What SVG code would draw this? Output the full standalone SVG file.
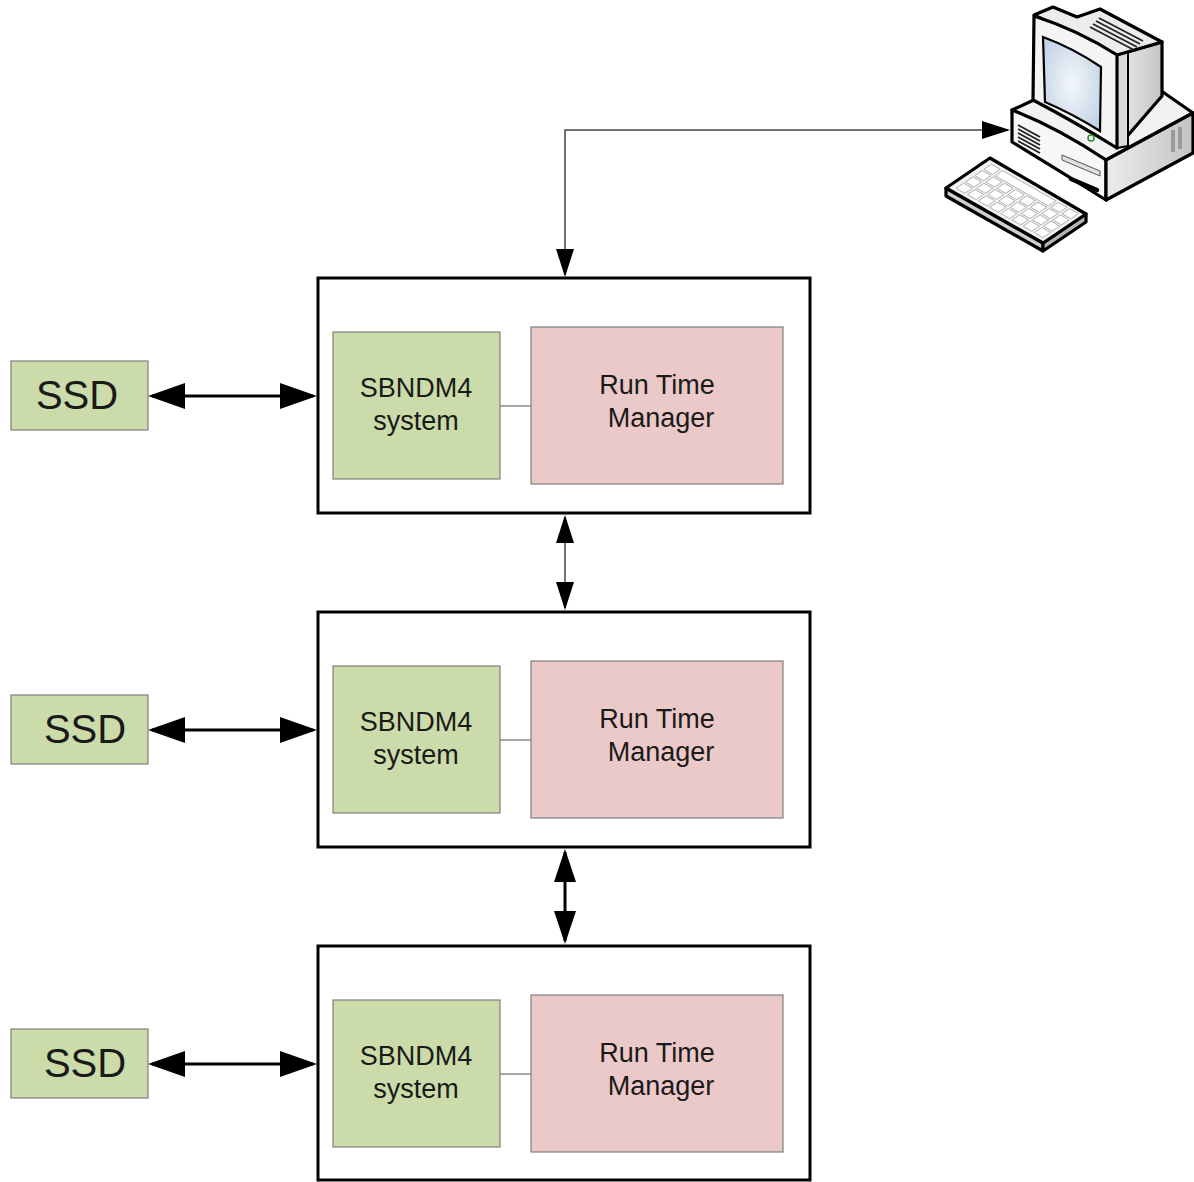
<svg xmlns="http://www.w3.org/2000/svg" width="1194" height="1182" viewBox="0 0 1194 1182">
  <style>
    .frame { fill: #ffffff; stroke: #000000; stroke-width: 3; }
    .sys { fill: #cbdba9; stroke: #7f7f7f; stroke-width: 1.2; }
    .rtm { fill: #ecc9c9; stroke: #7f7f7f; stroke-width: 1.2; }
    .ssd { fill: #cbdba9; stroke: #7f7f7f; stroke-width: 1.2; }
    .label { font-family: "Liberation Sans", Arial, sans-serif; font-size: 27px; fill: #1a1a1a; text-anchor: middle; }
    .big { font-size: 40px; }
    .link { stroke: #6e6e6e; stroke-width: 1.2; fill: none; }
    .thin { stroke: #444444; stroke-width: 1.5; fill: none; }
    .bold { stroke: #000000; stroke-width: 3; fill: none; }
    .pc { stroke: #000000; stroke-linejoin: round; stroke-width: 3.2; }
    .pcin { stroke: #000000; stroke-linejoin: round; stroke-width: 2; }
  </style>
  <defs>
    <marker id="m-sm" markerUnits="userSpaceOnUse" markerWidth="28" markerHeight="18" viewBox="0 0 28 18" refX="26" refY="9" orient="auto-start-reverse">
      <path d="M0,0 L28,9 L0,18 z" fill="#000"/>
    </marker>
    <marker id="m-md" markerUnits="userSpaceOnUse" markerWidth="33" markerHeight="22" viewBox="0 0 33 22" refX="30" refY="11" orient="auto-start-reverse">
      <path d="M0,0 L33,11 L0,22 z" fill="#000"/>
    </marker>
    <marker id="m-lg" markerUnits="userSpaceOnUse" markerWidth="37" markerHeight="26" viewBox="0 0 37 26" refX="33" refY="13" orient="auto-start-reverse">
      <path d="M0,0 L37,13 L0,26 z" fill="#000"/>
    </marker>
    <radialGradient id="screenGlow" cx="0.5" cy="0.5" r="0.6">
      <stop offset="0" stop-color="#f4f7fb"/>
      <stop offset="1" stop-color="#c3d3e6"/>
    </radialGradient>
    <linearGradient id="sideShade" x1="0" y1="0" x2="1" y2="0">
      <stop offset="0" stop-color="#ececec"/>
      <stop offset="1" stop-color="#c4c4c4"/>
    </linearGradient>
  </defs>

  <!-- connectors -->
  <g id="connectors">
    <path class="thin" d="M1008,130 H565 V275" marker-start="url(#m-sm)" marker-end="url(#m-sm)"/>
    <line class="thin" x1="565" y1="517" x2="565" y2="608" marker-start="url(#m-sm)" marker-end="url(#m-sm)"/>
    <line class="bold" x1="565" y1="852" x2="565" y2="941" marker-start="url(#m-md)" marker-end="url(#m-md)"/>
    <line class="bold" x1="152" y1="396" x2="313" y2="396" marker-start="url(#m-lg)" marker-end="url(#m-lg)"/>
    <line class="bold" x1="152" y1="730" x2="313" y2="730" marker-start="url(#m-lg)" marker-end="url(#m-lg)"/>
    <line class="bold" x1="152" y1="1064" x2="313" y2="1064" marker-start="url(#m-lg)" marker-end="url(#m-lg)"/>
  </g>

  <!-- node 1 -->
  <g id="node1">
    <rect class="frame" x="318" y="278" width="492" height="235"/>
    <line class="link" x1="500" y1="406" x2="531" y2="406"/>
    <rect class="sys" x="333" y="332" width="167" height="147"/>
    <rect class="rtm" x="531" y="327" width="252" height="157"/>
    <text class="label" x="416" y="397">SBNDM4</text>
    <text class="label" x="416" y="430">system</text>
    <text class="label" x="657" y="394">Run Time</text>
    <text class="label" x="661" y="427">Manager</text>
  </g>
  <g id="ssd1">
    <rect class="ssd" x="11" y="361" width="137" height="69"/>
    <text class="label big" x="77" y="409">SSD</text>
  </g>

  <!-- node 2 -->
  <g id="node2">
    <rect class="frame" x="318" y="612" width="492" height="235"/>
    <line class="link" x1="500" y1="740" x2="531" y2="740"/>
    <rect class="sys" x="333" y="666" width="167" height="147"/>
    <rect class="rtm" x="531" y="661" width="252" height="157"/>
    <text class="label" x="416" y="731">SBNDM4</text>
    <text class="label" x="416" y="764">system</text>
    <text class="label" x="657" y="728">Run Time</text>
    <text class="label" x="661" y="761">Manager</text>
  </g>
  <g id="ssd2">
    <rect class="ssd" x="11" y="695" width="137" height="69"/>
    <text class="label big" x="85" y="743">SSD</text>
  </g>

  <!-- node 3 -->
  <g id="node3">
    <rect class="frame" x="318" y="946" width="492" height="234"/>
    <line class="link" x1="500" y1="1074" x2="531" y2="1074"/>
    <rect class="sys" x="333" y="1000" width="167" height="147"/>
    <rect class="rtm" x="531" y="995" width="252" height="157"/>
    <text class="label" x="416" y="1065">SBNDM4</text>
    <text class="label" x="416" y="1098">system</text>
    <text class="label" x="657" y="1062">Run Time</text>
    <text class="label" x="661" y="1095">Manager</text>
  </g>
  <g id="ssd3">
    <rect class="ssd" x="11" y="1029" width="137" height="69"/>
    <text class="label big" x="85" y="1077">SSD</text>
  </g>

  <!-- workstation -->
  <g id="workstation">
    <!-- base unit -->
    <polygon class="pc" fill="#f2f2f2" points="1012,110 1036,99 1160,90 1193,113 1106,160"/>
    <path class="pc" fill="#f7f7f7" d="M1012,110 Q1058,128 1106,160 L1106,200 Q1058,170 1012,142 Z"/>
    <polygon class="pc" fill="url(#sideShade)" points="1106,160 1193,113 1193,153 1106,200"/>
    <g stroke="#222" stroke-width="1.8">
      <line x1="1018" y1="125" x2="1040" y2="137"/>
      <line x1="1018" y1="129" x2="1040" y2="141"/>
      <line x1="1018" y1="133" x2="1040" y2="145"/>
      <line x1="1018" y1="137" x2="1040" y2="149"/>
      <line x1="1018" y1="141" x2="1040" y2="153"/>
    </g>
    <polygon fill="#e0e0e0" stroke="#555" stroke-width="1" points="1062,155 1100,171 1100,176 1062,160"/>
    <line x1="1071" y1="179" x2="1097" y2="190" stroke="#000" stroke-width="4.5" stroke-linecap="round"/>
    <rect x="1171" y="130" width="4" height="22" fill="#9a9a9a"/>
    <rect x="1178" y="127" width="4" height="22" fill="#9a9a9a"/>

    <!-- monitor -->
    <polygon class="pc" fill="url(#sideShade)" points="1117,55 1162,42 1162,96 1117,148"/>
    <polygon class="pcin" fill="#dcdcdc" points="1117,55 1128,52 1128,146 1117,148"/>
    <polygon class="pc" fill="#ececec" points="1034,15 1053,7 1077,17 1100,9 1162,42 1117,55"/>
    <g stroke="#222" stroke-width="1.8">
      <line x1="1099" y1="18" x2="1143" y2="41"/>
      <line x1="1096" y1="21" x2="1140" y2="44"/>
      <line x1="1093" y1="24" x2="1137" y2="47"/>
      <line x1="1090" y1="27" x2="1134" y2="50"/>
    </g>
    <path class="pc" fill="#f4f4f4" d="M1034,16 Q1078,30 1117,55 L1117,148 Q1075,122 1033,100 Z"/>
    <path fill="url(#screenGlow)" stroke="#000" stroke-width="2.2" d="M1043,37 Q1073,48 1101,67 L1100,131 Q1073,114 1045,102 Z"/>
    <circle cx="1091" cy="138" r="3" fill="#e8f5e8" stroke="#2e8b3a" stroke-width="1.5"/>

    <!-- keyboard -->
    <polygon class="pc" fill="#cfcfcf" points="946,188 1043,243 1043,251 946,196"/>
    <polygon class="pc" fill="#b5b5b5" points="1043,243 1086,214 1086,222 1043,251"/>
    <polygon class="pc" fill="#f2f2f2" points="946,188 990,158 1086,214 1043,243"/>
    <g transform="matrix(0.97 0.55 0.44 -0.3 946 188)" fill="#ffffff" stroke="#b0b0b0" stroke-width="1">
      <rect x="6" y="10" width="9" height="17" vector-effect="non-scaling-stroke"/>
      <rect x="17.5" y="10" width="9" height="17" vector-effect="non-scaling-stroke"/>
      <rect x="29" y="10" width="9" height="17" vector-effect="non-scaling-stroke"/>
      <rect x="40.5" y="10" width="9" height="17" vector-effect="non-scaling-stroke"/>
      <rect x="52" y="10" width="9" height="17" vector-effect="non-scaling-stroke"/>
      <rect x="63.5" y="10" width="9" height="17" vector-effect="non-scaling-stroke"/>
      <rect x="75" y="10" width="9" height="17" vector-effect="non-scaling-stroke"/>
      <rect x="86.5" y="10" width="9" height="17" vector-effect="non-scaling-stroke"/>
      <rect x="6" y="31" width="9" height="17" vector-effect="non-scaling-stroke"/>
      <rect x="17.5" y="31" width="9" height="17" vector-effect="non-scaling-stroke"/>
      <rect x="29" y="31" width="9" height="17" vector-effect="non-scaling-stroke"/>
      <rect x="40.5" y="31" width="9" height="17" vector-effect="non-scaling-stroke"/>
      <rect x="52" y="31" width="9" height="17" vector-effect="non-scaling-stroke"/>
      <rect x="63.5" y="31" width="9" height="17" vector-effect="non-scaling-stroke"/>
      <rect x="75" y="31" width="9" height="17" vector-effect="non-scaling-stroke"/>
      <rect x="86.5" y="31" width="9" height="17" vector-effect="non-scaling-stroke"/>
      <rect x="6" y="52" width="9" height="17" vector-effect="non-scaling-stroke"/>
      <rect x="17.5" y="52" width="9" height="17" vector-effect="non-scaling-stroke"/>
      <rect x="29" y="52" width="9" height="17" vector-effect="non-scaling-stroke"/>
      <rect x="40.5" y="52" width="9" height="17" vector-effect="non-scaling-stroke"/>
      <rect x="52" y="52" width="9" height="17" vector-effect="non-scaling-stroke"/>
      <rect x="63.5" y="52" width="9" height="17" vector-effect="non-scaling-stroke"/>
      <rect x="75" y="52" width="9" height="17" vector-effect="non-scaling-stroke"/>
      <rect x="86.5" y="52" width="9" height="17" vector-effect="non-scaling-stroke"/>
      <rect x="6" y="73" width="9" height="17" vector-effect="non-scaling-stroke"/>
      <rect x="17.5" y="73" width="55" height="17" vector-effect="non-scaling-stroke"/>
      <rect x="75" y="73" width="9" height="17" vector-effect="non-scaling-stroke"/>
      <rect x="86.5" y="73" width="9" height="17" vector-effect="non-scaling-stroke"/>
    </g>
  </g>
</svg>
